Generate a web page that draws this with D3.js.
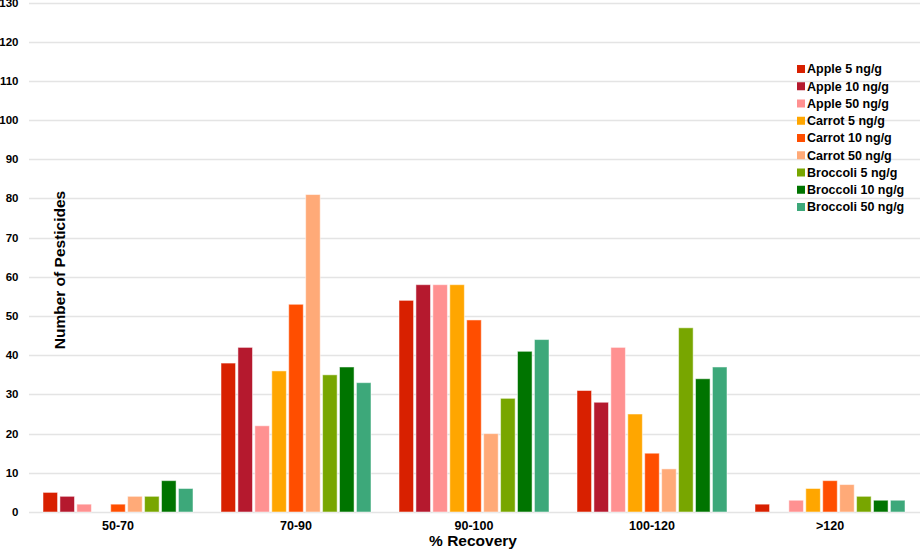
<!DOCTYPE html>
<html>
<head>
<meta charset="utf-8">
<script src="https://cdn.jsdelivr.net/npm/d3@7"></script>
<style>
  body { margin: 0; background: #fff; }
  text { font-family: "Liberation Sans", Arial, sans-serif; font-weight: bold; fill: #000; }
</style>
</head>
<body>
<div id="chart"></div>
<script>
const categories = ['50-70', '70-90', '90-100', '100-120', '>120'];
const seriesNames = ['Apple 5 ng/g', 'Apple 10 ng/g', 'Apple 50 ng/g', 'Carrot 5 ng/g', 'Carrot 10 ng/g',
    'Carrot 50 ng/g', 'Broccoli 5 ng/g', 'Broccoli 10 ng/g', 'Broccoli 50 ng/g'];
const apple5 = [5, 38, 54, 31, 2];
const apple10 = [4, 42, 58, 28, 0];
const apple50 = [2, 22, 58, 42, 3];
const carrot5 = [0, 36, 58, 25, 6];
const carrot10 = [2, 53, 49, 15, 8];
const carrot50 = [4, 81, 20, 11, 7];
const broccoli5 = [4, 35, 29, 47, 4];
const broccoli10 = [8, 37, 41, 34, 3];
const broccoli50 = [6, 33, 44, 37, 3];
const yTicks = [0, 10, 20, 30, 40, 50, 60, 70, 80, 90, 100, 110, 120, 130];
const colors = ['#D82000', '#B5192E', '#FF9191', '#FFA600', '#FF4E00', '#FFAA78', '#78A600', '#007400', '#3DA87A'];

const series = [apple5, apple10, apple50, carrot5, carrot10, carrot50, broccoli5, broccoli10, broccoli50];

const width = 920, height = 549;
const margin = { top: 2, right: 1, bottom: 37, left: 29 };

const svg = d3.select('#chart').append('svg')
    .attr('width', width)
    .attr('height', height);

const x = d3.scaleBand()
    .domain(categories)
    .range([margin.left, width - margin.right])
    .paddingInner(0)
    .paddingOuter(0);

const x1 = d3.scaleBand()
    .domain(d3.range(series.length))
    .range([0, 150])
    .paddingInner(0.14);

const y = d3.scaleLinear()
    .domain([0, 130])
    .range([height - margin.bottom, margin.top + 0.5]);

// Gridlines
svg.append('g')
    .selectAll('line')
    .data(yTicks)
    .enter()
    .append('line')
    .attr('x1', margin.left)
    .attr('x2', width)
    .attr('y1', d => Math.round(y(d)) + 0.5)
    .attr('y2', d => Math.round(y(d)) + 0.5)
    .attr('stroke', '#e4e4e4')
    .attr('stroke-width', 1.5);

// Y tick labels
svg.append('g')
    .selectAll('text')
    .data(yTicks)
    .enter()
    .append('text')
    .attr('x', 18.5)
    .attr('y', d => y(d))
    .attr('dy', '0.35em')
    .attr('text-anchor', 'end')
    .attr('font-size', '11.5px')
    .text(d => d);

// Bars
const groups = svg.append('g')
    .selectAll('g')
    .data(categories)
    .enter()
    .append('g')
    .attr('transform', d => `translate(${x(d) + x.bandwidth() / 2 - 75},0)`);

groups.selectAll('rect')
    .data((c, ci) => series.map((s, si) => ({ si, v: s[ci] })))
    .enter()
    .filter(d => d.v > 0)
    .append('rect')
    .attr('x', d => x1(d.si))
    .attr('width', x1.bandwidth())
    .attr('y', d => y(d.v))
    .attr('height', d => y(0) - y(d.v))
    .attr('fill', d => colors[d.si])
    .attr('stroke', '#ffffff')
    .attr('stroke-opacity', 0.5)
    .attr('stroke-width', 1);

// Category labels
svg.append('g')
    .selectAll('text')
    .data(categories)
    .enter()
    .append('text')
    .attr('x', d => x(d) + x.bandwidth() / 2)
    .attr('y', 530)
    .attr('text-anchor', 'middle')
    .attr('font-size', '12.5px')
    .text(d => d);

// Axis titles
svg.append('text')
    .attr('transform', 'translate(65, 270) rotate(-90)')
    .attr('text-anchor', 'middle')
    .attr('font-size', '15.5px')
    .text('Number of Pesticides');

svg.append('text')
    .attr('x', 473)
    .attr('y', 546)
    .attr('text-anchor', 'middle')
    .attr('font-size', '15.5px')
    .text('% Recovery');

// Legend
const legend = svg.append('g')
    .selectAll('g')
    .data(seriesNames)
    .enter()
    .append('g')
    .attr('transform', (d, i) => `translate(797, ${69 + i * 17.25})`);

legend.append('rect')
    .attr('x', 0)
    .attr('y', -4)
    .attr('width', 8)
    .attr('height', 8)
    .attr('fill', (d, i) => colors[i]);

legend.append('text')
    .attr('x', 10)
    .attr('dy', '0.35em')
    .attr('font-size', '12.5px')
    .text(d => d);
</script>
</body>
</html>
